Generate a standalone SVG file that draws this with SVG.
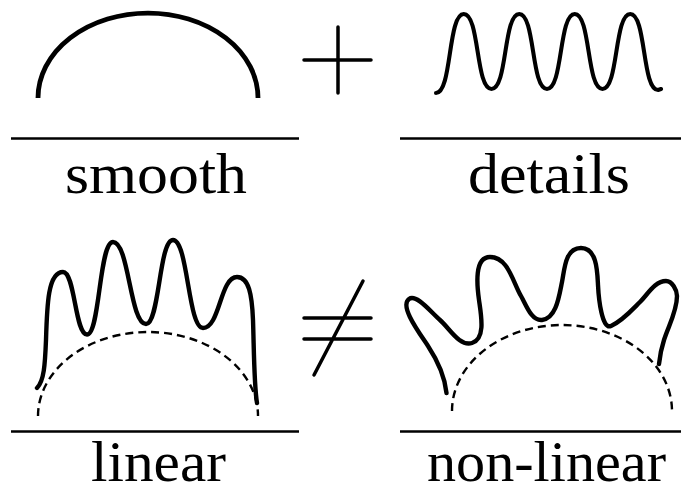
<svg xmlns="http://www.w3.org/2000/svg" width="681" height="489" viewBox="0 0 681 489">
<style>
.curve{fill:none;stroke:#000;stroke-width:4.4;stroke-linecap:round;stroke-linejoin:round}
.dash{fill:none;stroke:#000;stroke-width:2.4;stroke-dasharray:8 5}
.rule{stroke:#000;stroke-width:2.5}
.sym{stroke:#000;stroke-width:3.5;stroke-linecap:round;fill:none}
.lbl{font-family:"Liberation Serif","Times New Roman",serif;font-size:57px;fill:#000;text-anchor:middle}
</style>
<rect width="681" height="489" fill="#fff"/>
<g id="smooth">
<path class="curve" style="stroke-width:4.8;stroke-linecap:butt" d="M38,98 A110,85 0 0 1 258,98"/>
<line class="rule" x1="11" y1="138.5" x2="299" y2="138.5"/>
<text class="lbl" x="156" y="193" textLength="182" lengthAdjust="spacingAndGlyphs">smooth</text>
</g>
<g id="plus">
<path class="sym" d="M304,60 H371 M338,27 V93"/>
</g>
<g id="details">
<path class="curve" style="stroke-width:4.1" d="M436,93 C452,93 447.75,14 463.75,14 C479.75,14 475.5,89 491.5,89 C507.5,89 503.25,14 519.25,14 C535.25,14 531,89 547,89 C563,89 558.75,14 574.75,14 C590.75,14 586.5,89 602.5,89 C618.5,89 614.25,14 630.25,14 C646.25,14 642,90 658,90 L661,89"/>
<line class="rule" x1="400" y1="138.5" x2="681" y2="138.5"/>
<text class="lbl" x="549" y="193" textLength="162" lengthAdjust="spacingAndGlyphs">details</text>
</g>
<g id="linear">
<path class="dash" d="M38,416 A110,84 0 0 1 258,416"/>
<path class="curve" d="M37,388 C44,381 45,365 46,340 C47,305 48,272 63,272 C75,272 75,334.5 87,334.5 C100,334.5 99,242 113,242 C129,242 130,324 146,324 C159.5,324 159,240 173,240 C188,240 188,328 203,328 C220,328 220,277 237,277 C249,277 252,295 253,320 C254,350 254,385 257,403"/>
<line class="rule" x1="11" y1="431.5" x2="299" y2="431.5"/>
<text class="lbl" x="158.5" y="481" textLength="135" lengthAdjust="spacingAndGlyphs">linear</text>
</g>
<g id="neq">
<path class="sym" d="M304,318 H371 M304,339 H371 M363,281 L314,375"/>
</g>
<g id="non-linear">
<path class="dash" d="M452,411 A110,86 0 0 1 672,411"/>
<path class="curve" d="M446.5,393 C444.8,376.2 437.2,360 428,346 C418.7,332 399.3,306 409,299 C416.3,293.7 430.6,311.7 440,320 C449.8,328.6 459.4,346.8 472,343 C486,338.8 481,314.6 479,300 C477,285.7 474,257 490,257 C508,257 512.7,281.6 521,296 C526.3,305.2 531.4,321.1 542,320 C556.3,318.6 559.1,296 562,282 C564.6,269.3 565,248 581,248 C597,248 597.3,271.4 598,285 C598.7,299.3 602,330 611,326 C622.3,321 631.2,310.8 640,302 C647.8,294.2 654.9,281 666,281 C672.1,281 677,289.9 677,296 C677,311.2 668.6,325.6 664,340 C661.5,347.8 659.8,355.8 659,364"/>
<line class="rule" x1="400" y1="431.5" x2="681" y2="431.5"/>
<text class="lbl" x="546.5" y="481" textLength="239" lengthAdjust="spacingAndGlyphs">non-linear</text>
</g>
<g id="connectors"/>
</svg>
